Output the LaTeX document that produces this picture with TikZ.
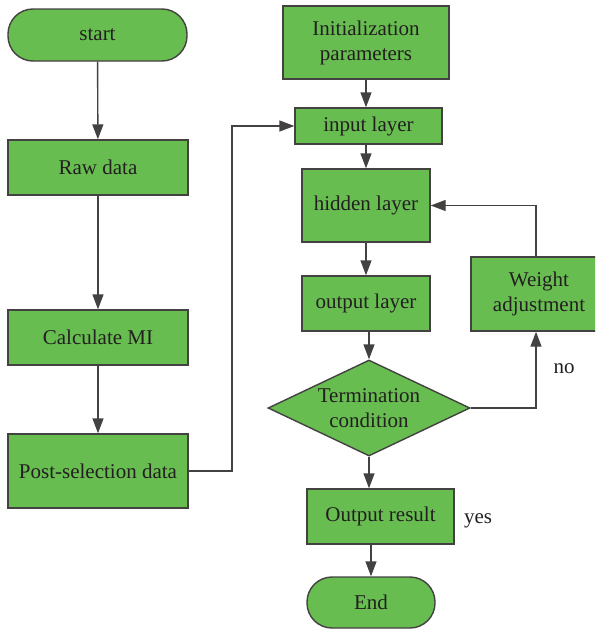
\documentclass[tikz,border=0pt]{standalone}
\usepackage{fontspec}
\setmainfont{Liberation Serif}
\usetikzlibrary{arrows.meta,shapes.geometric}
\definecolor{boxgreen}{RGB}{103,189,80}
\definecolor{ink}{RGB}{35,31,32}
\tikzset{
  box/.style={draw=ink!85, line width=1.4pt, fill=boxgreen, inner sep=0pt, align=center, text=ink, font=\fontsize{21}{25}\selectfont},
  term/.style={box, rounded corners=25pt},
  dia/.style={box, diamond, aspect=2.1},
  arr/.style={draw=ink!85, line width=1.4pt, -{Triangle[length=15pt,width=11pt]}},
  lbl/.style={text=ink, font=\fontsize{21}{25}\selectfont, inner sep=0pt}
}
\begin{document}
\begin{tikzpicture}[x=1pt,y=-1pt]
\useasboundingbox (0,0) rectangle (595,629);
\begin{scope}
\clip (0,0) rectangle (595,629);
\node[term, minimum width=179pt, minimum height=52pt] (start) at (97.5,35) {start};
\node[box, minimum width=180pt, minimum height=55pt] (raw) at (98,167.5) {Raw data};
\node[box, minimum width=180pt, minimum height=55pt] (calc) at (98,337.5) {Calculate MI};
\node[box, minimum width=180pt, minimum height=74pt] (post) at (98,471) {Post-selection data};
\node[box, minimum width=166pt, minimum height=73pt] (init) at (366,42.5) {Initialization\\parameters};
\node[box, minimum width=147pt, minimum height=36pt] (input) at (368.5,126) {input layer};
\node[box, minimum width=128pt, minimum height=73pt] (hidden) at (366,205.5) {hidden layer};
\node[box, minimum width=128pt, minimum height=55pt] (output) at (366,303.5) {output layer};
\node[box, minimum width=136pt, minimum height=74pt] (weight) at (539,294) {Weight\\adjustment};
\node[dia, minimum width=202pt, minimum height=96pt] (cond) at (369,408) {Termination\\condition};
\node[box, minimum width=147pt, minimum height=55pt] (result) at (380.5,516.5) {Output result};
\node[term, minimum width=128pt, minimum height=51pt] (end) at (371,602.5) {End};
\node[lbl] (no) at (564,369) {no};
\node[lbl] (yes) at (478,521) {yes};
\coordinate (jL) at (232,300);
\coordinate (jR) at (536,300);

\draw[arr] (start) -- (raw);
\draw[arr] (raw) -- (calc);
\draw[arr] (calc) -- (post);
\draw[arr] (post.east) -| (jL) |- (input.west);
\draw[arr] (init.south) -- (init.south |- input.north);
\draw[arr] (hidden.north |- input.south) -- (hidden.north);
\draw[arr] (hidden) -- (output);
\draw[arr] (cond.north |- output.south) -- (cond.north);
\draw[arr] (cond.east) -| (jR |- weight.south);
\draw[arr] (jR |- weight.north) |- (hidden.east);
\draw[arr] (cond.south) -- (cond.south |- result.north);
\draw[arr] (end.north |- result.south) -- (end.north);
\end{scope}
\end{tikzpicture}
\end{document}
